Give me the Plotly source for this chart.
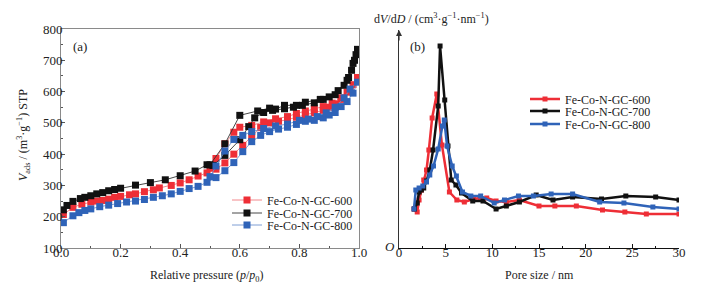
import plotly.graph_objects as go

W, H = 704, 290
OFF = 8  # default body margin of the html page

# ---------- (a) N2 isotherms ----------
series_names = ["Fe-Co-N-GC-600", "Fe-Co-N-GC-700", "Fe-Co-N-GC-800"]

ads600_x = [0.008,0.04,0.07,0.1,0.12,0.14,0.16,0.18,0.2,0.23,0.25,0.28,0.31,0.33,0.37,0.4,0.43,0.46,0.49,0.52,0.55,0.58,0.61,0.64,0.67,0.7,0.73,0.76,0.79,0.82,0.85,0.88,0.9,0.92,0.94,0.96,0.98,0.995]
ads600_y = [207,230,240,247,250,252,256,262,265,270,273,280,286,292,300,308,318,330,340,352,372,400,428,456,485,500,505,510,518,526,532,540,550,560,575,598,622,645]
des600_x = [0.97,0.94,0.91,0.88,0.85,0.82,0.79,0.76,0.72,0.68,0.64,0.6,0.58,0.55,0.52,0.5]
des600_y = [605,580,563,552,545,538,530,520,513,503,492,486,470,433,386,355]

ads700_x = [0.008,0.02,0.04,0.065,0.08,0.1,0.12,0.14,0.16,0.18,0.2,0.25,0.3,0.35,0.4,0.45,0.49,0.51,0.55,0.6,0.63,0.65,0.68,0.71,0.75,0.78,0.81,0.85,0.88,0.9,0.93,0.95,0.965,0.975,0.985,0.99,0.995]
ads700_y = [222,236,249,258,262,267,273,277,283,287,291,301,309,318,331,346,366,364,396,446,488,516,533,540,545,550,556,564,575,583,603,620,645,668,700,718,735]
des700_x = [0.98,0.96,0.92,0.87,0.82,0.79,0.75,0.72,0.7,0.66,0.6,0.55,0.5]
des700_y = [690,636,590,575,566,556,556,544,547,538,524,433,366]

ads800_x = [0.008,0.04,0.06,0.08,0.1,0.13,0.16,0.19,0.22,0.25,0.28,0.31,0.34,0.37,0.4,0.43,0.46,0.49,0.52,0.55,0.58,0.61,0.64,0.67,0.7,0.73,0.76,0.79,0.82,0.85,0.88,0.9,0.92,0.94,0.96,0.98,0.995]
ads800_y = [181,203,213,220,225,232,237,242,247,250,255,262,267,273,281,290,297,310,325,347,373,408,440,460,472,480,486,495,505,508,516,525,533,552,568,595,630]
des800_x = [0.97,0.95,0.92,0.89,0.86,0.83,0.8,0.76,0.72,0.68,0.64,0.61,0.58,0.55,0.52,0.5]
des800_y = [608,580,550,532,520,512,508,496,490,482,472,460,447,410,362,328]

# ---------- (b) pore size distribution ----------
psd600_x = [1.6,1.95,2.15,2.4,2.65,2.95,3.2,3.55,4.05,4.6,5.4,6.2,7.0,8.0,8.7,9.4,10.4,11.5,12.9,15.0,16.7,19.0,21.8,24.2,26.5,30]
psd600_y = [39,36,48,58,68,78,98,130,154,103,56,48,46,49,50,50,47,46,48,42,42,42,38,36,34,34]
psd700_x = [1.65,1.95,2.15,2.4,2.65,2.95,3.3,3.65,4.2,4.4,4.9,5.25,5.6,6.1,6.7,7.9,9.0,10.4,11.5,12.9,14.7,16.5,18.6,21.7,24.3,27.5,30]
psd700_y = [39,45,56,58,60,67,78,98,142,202,148,102,68,63,55,47,47,39,42,46,53,48,51,49,52,51,48]
psd800_x = [1.6,1.8,2.15,2.55,2.95,3.3,3.7,4.2,4.65,4.85,5.15,5.7,6.15,6.8,7.7,8.75,10.2,11.3,12.8,14.4,16.3,18.6,21.5,24.1,27.2,30]
psd800_y = [39,58,60,62,66,73,82,99,122,128,102,82,72,56,52,52,45,48,52,52,54,54,46,45,41,39]

marker_colors = ["#ee2e36", "#111111", "#2f63b8"]
iso_line_colors = ["#f07a7f", "#333333", "#6f93cf"]

FONT = "Liberation Serif"

fig = go.Figure()

iso = [(ads600_x, ads600_y, des600_x, des600_y),
       (ads700_x, ads700_y, des700_x, des700_y),
       (ads800_x, ads800_y, des800_x, des800_y)]
for i, (ax_, ay_, dx_, dy_) in enumerate(iso):
    fig.add_trace(go.Scatter(
        x=ax_ + dx_, y=ay_ + dy_, mode="lines+markers", name=series_names[i],
        line=dict(color=iso_line_colors[i], width=0.9),
        marker=dict(symbol="square", size=7, color=marker_colors[i]),
        xaxis="x", yaxis="y", legend="legend" if i == 0 else f"legend{i+1}"))

psd = [(psd600_x, psd600_y), (psd700_x, psd700_y), (psd800_x, psd800_y)]
for i, (px_, py_) in enumerate(psd):
    fig.add_trace(go.Scatter(
        x=px_, y=py_, mode="lines+markers", name=series_names[i],
        line=dict(color=marker_colors[i], width=2.5),
        marker=dict(symbol="square", size=5, color=marker_colors[i]),
        xaxis="x2", yaxis="y2", legend=f"legend{i+4}"))

def px2x(p): return (p - OFF) / W
def px2y(p): return 1 - (p - OFF) / H

ydom = [px2y(248), px2y(29)]
legend_cfg = {}
left_rows = [200, 213, 225]
right_rows = [99, 111, 124]
for i in range(3):
    key = "legend" if i == 0 else f"legend{i+1}"
    legend_cfg[key] = dict(x=px2x(227), y=px2y(left_rows[i]), xanchor="left", yanchor="middle",
                           bgcolor="rgba(0,0,0,0)", font=dict(family=FONT, size=12, color="#222"),
                           itemwidth=30, tracegroupgap=0)
    legend_cfg[f"legend{i+4}"] = dict(x=px2x(525), y=px2y(right_rows[i]), xanchor="left", yanchor="middle",
                           bgcolor="rgba(0,0,0,0)", font=dict(family=FONT, size=12, color="#222"),
                           itemwidth=30, tracegroupgap=0)

fig.update_layout(
    width=W, height=H, margin=dict(l=0, r=0, t=0, b=0, autoexpand=False),
    paper_bgcolor="white", plot_bgcolor="white",
    font=dict(family=FONT, size=13, color="#222"),
    showlegend=True,
    xaxis=dict(domain=[px2x(61), px2x(359)], range=[0, 1], dtick=0.2, tickformat=".1f",
               showline=True, linecolor="#8a8a8a", linewidth=1, mirror=True,
               ticks="inside", ticklen=4, tickcolor="#555", showgrid=False, zeroline=False,
               minor=dict(dtick=0.1, ticks="inside", ticklen=2, tickcolor="#555"),
               ticklabelstandoff=-8,
               tickfont=dict(family=FONT, size=13, color="#222")),
    yaxis=dict(domain=ydom, range=[100, 800], dtick=100,
               showline=True, linecolor="#8a8a8a", linewidth=1, mirror=True,
               ticks="inside", ticklen=4, tickcolor="#555", showgrid=False, zeroline=False,
               minor=dict(dtick=50, ticks="inside", ticklen=2, tickcolor="#555"),
               ticklabelstandoff=-5,
               tickfont=dict(family=FONT, size=13, color="#222")),
    xaxis2=dict(domain=[px2x(399), px2x(679)], range=[0, 30], dtick=5,
                showline=True, linecolor="#111", linewidth=1.2,
                ticks="inside", ticklen=4, tickcolor="#111", showgrid=False, zeroline=False,
                minor=dict(dtick=2.5, ticks="inside", ticklen=2, tickcolor="#111"),
                ticklabelstandoff=-8,
                tickfont=dict(family=FONT, size=13, color="#222"), anchor="y2"),
    yaxis2=dict(domain=[px2y(248), px2y(30)], range=[0, 218],
                showline=True, linecolor="#333", linewidth=1.2,
                showticklabels=False, ticks="", showgrid=False, zeroline=False, anchor="x2"),
    **legend_cfg,
)

def ann(text, x, y, size=12, angle=0):
    return dict(text=text, x=px2x(x), y=px2y(y), xref="paper", yref="paper", showarrow=False,
                xanchor="center", yanchor="middle", textangle=angle,
                font=dict(family=FONT, size=size, color="#222"))

anns = [
    ann("(a)", 80, 47, size=13),
    ann("(b)", 417, 47, size=13),
    ann("Relative pressure (<i>p</i>/<i>p</i><sub>0</sub>)", 207, 276),
    ann("Pore size / nm", 539, 275),
    ann("<i>V</i><sub>ads</sub> / (m<sup>3</sup>·g<sup>−1</sup>) STP", 23, 135, angle=-90),
    ann("d<i>V</i>/d<i>D</i> / (cm<sup>3</sup>·g<sup>−1</sup>·nm<sup>−1</sup>)", 431, 19),
    ann("<i>O</i>", 390, 246, size=13),
    dict(text="", x=0, y=218, xref="x2", yref="y2", showarrow=True, ax=0, ay=12,
         arrowhead=2, arrowsize=1, arrowwidth=1.2, arrowcolor="#333"),
]
fig.update_layout(annotations=anns)

fig.write_html("out.html")
